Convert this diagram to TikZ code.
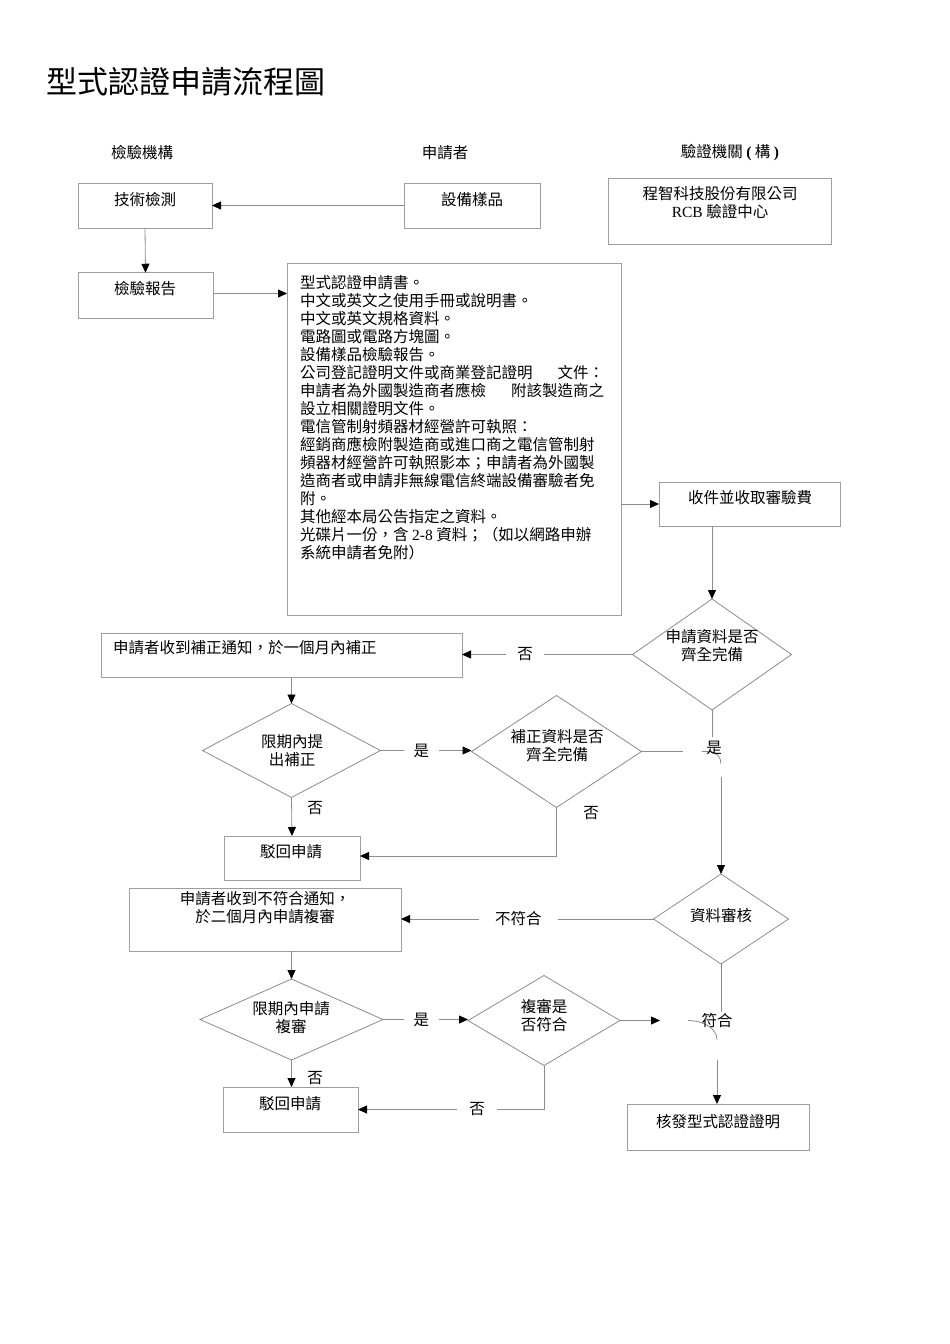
\documentclass[tikz,border=0pt]{standalone}
\usepackage{fontspec}
\setmainfont{Noto Sans CJK TC}
\newfontfamily\latinserif{Liberation Serif}
\usetikzlibrary{arrows.meta,shapes.geometric,calc}
\definecolor{linegray}{gray}{0.55}
\definecolor{boxgray}{gray}{0.62}
\newcommand{\bodysize}{\fontsize{15.5}{18}\selectfont}
\begin{document}
\begin{tikzpicture}[x=1pt,y=-1pt,
  box/.style={draw=boxgray,line width=0.8pt,rectangle,inner sep=0pt,outer sep=0pt},
  dia/.style={draw=linegray,line width=0.8pt,diamond,inner sep=0pt,outer sep=0pt},
  txt/.style={inner sep=0pt,font=\bodysize,align=center},
  conn/.style={draw=linegray,line width=0.8pt},
  arr/.style={conn,-{Triangle[length=9pt,width=8pt,color=black]}},
  lblgap/.style={txt,fill=white,inner xsep=#1},
]
\fill[white] (0,0) rectangle (950,1344);
\useasboundingbox (0,0) rectangle (950,1344);

% title and column headers
\node[anchor=west,inner sep=0pt,font=\fontsize{31}{36}\selectfont] (title) at (46,82) {型式認證申請流程圖};
\node[txt] (h1) at (142,153) {檢驗機構};
\node[txt] (h2) at (445,153) {申請者};
\node[txt] (h3) at (730,153) {驗證機關 {\latinserif\bfseries(} 構 {\latinserif\bfseries)}};

% boxes
\node[box,minimum width=134pt,minimum height=45pt] (tech) at (145,205.5) {};
\node[txt] (tech-t) at (145,200) {技術檢測};
\node[box,minimum width=136pt,minimum height=45pt] (sample) at (472,205.5) {};
\node[txt] (sample-t) at (472,200) {設備樣品};
\node[box,minimum width=223pt,minimum height=66pt] (rcb) at (719.5,211) {};
\node[txt] (rcb-t) at (720,203) {程智科技股份有限公司\\{\latinserif RCB} 驗證中心};
\node[box,minimum width=135pt,minimum height=45.5pt] (report) at (145.5,295.5) {};
\node[txt] (report-t) at (145,289) {檢驗報告};
\node[box,minimum width=334pt,minimum height=352pt] (big) at (454,439) {};
\node[txt,align=left,anchor=north west] (big-t) at (300,275) {型式認證申請書。\\
中文或英文之使用手冊或說明書。\\
中文或英文規格資料。\\
電路圖或電路方塊圖。\\
設備樣品檢驗報告。\\
公司登記證明文件或商業登記證明\hspace{1.6em}文件：\\
申請者為外國製造商者應檢\hspace{1.6em}附該製造商之\\
設立相關證明文件。\\
電信管制射頻器材經營許可執照：\\
經銷商應檢附製造商或進口商之電信管制射\\
頻器材經營許可執照影本；申請者為外國製\\
造商者或申請非無線電信終端設備審驗者免\\
附。\\
其他經本局公告指定之資料。\\
光碟片一份，含 {\latinserif 2-8} 資料；（如以網路申辦\\
系統申請者免附）};
\node[box,minimum width=181pt,minimum height=44pt] (recv) at (749.5,504) {};
\node[txt] (recv-t) at (750,498) {收件並收取審驗費};

\node[dia,minimum width=159pt,minimum height=111pt] (D1) at (712,654.5) {};
\node[txt] (D1-t) at (712,646) {申請資料是否\\齊全完備};
\node[box,minimum width=360.5pt,minimum height=44pt] (fix) at (281.75,655) {};
\node[txt,anchor=west] (fix-t) at (113,648) {申請者收到補正通知，於一個月內補正};

\node[dia,minimum width=178pt,minimum height=94pt] (D2) at (291.5,750.5) {};
\node[txt] (D2-t) at (292,751) {限期內提\\出補正};
\node[dia,minimum width=170pt,minimum height=112pt] (D3) at (556.5,751.5) {};
\node[txt] (D3-t) at (557,746) {補正資料是否\\齊全完備};
\node[box,minimum width=136pt,minimum height=44pt] (rej1) at (292,858) {};
\node[txt] (rej1-t) at (291,852) {駁回申請};

\node[dia,minimum width=135pt,minimum height=90pt] (D4) at (721,919) {};
\node[txt] (D4-t) at (721,916) {資料審核};
\node[box,minimum width=272pt,minimum height=63pt] (nonc) at (265,919.5) {};
\node[txt] (nonc-t) at (265,908) {申請者收到不符合通知，\\於二個月內申請複審};

\node[dia,minimum width=183pt,minimum height=81pt] (D5) at (291.5,1019.5) {};
\node[txt] (D5-t) at (291,1017.5) {限期內申請\\複審};
\node[dia,minimum width=152pt,minimum height=90pt] (D6) at (544,1020.5) {};
\node[txt] (D6-t) at (544,1016) {複審是\\否符合};
\node[box,minimum width=135pt,minimum height=45pt] (rej2) at (290.5,1109.5) {};
\node[txt] (rej2-t) at (290,1104) {駁回申請};
\node[box,minimum width=182pt,minimum height=46pt] (cert) at (718,1127) {};
\node[txt] (cert-t) at (718,1122) {核發型式認證證明};

% connectors, top part
\draw[arr] (sample.west) -- (tech.east);
\draw[arr] (tech.south) -- (report.north);
\draw[arr] ([yshift=2pt]report.east) -- ([yshift=2pt]report.east -| big.west);
\draw[arr] (big.east |- recv.west) -- (recv.west);
\draw[arr] (recv.south -| D1.north) -- (D1.north);
\draw[arr] (D1.west) -- node[lblgap=11pt,pos=0.63] (no1) {否} (D1.west -| fix.east);
\draw[arr] (fix.south -| D2.north) -- (D2.north);
\draw[arr] (D2.east) -- node[lblgap=10pt,pos=0.45] (yes2) {是} (D2.east -| D3.west);
\draw[arr] (D2.south) -- (rej1.north);
\node[txt] (no2) at (315,808) {否};
\draw[arr] (D3.south) |- ([yshift=2pt]rej1.east);
\node[txt] (no3) at (591,813) {否};

% yes-junction below D1
\coordinate (j1a) at ($(D1.south)+(0,27)$);
\coordinate (j1b) at (683,751.5);
\coordinate (j1c) at (701.7,751.5);
\coordinate (j1d) at (709,751.5);
\coordinate (j1e) at (721,777);
\draw[conn] (D1.south) -- (j1a);
\draw[conn] (D3.east) -- (j1b);
\draw[conn] (j1c) -- (j1d) arc[start angle=-90,end angle=0,radius=12];
\node[txt] (yes1) at (714,748) {是};
\draw[arr] (j1e) -- (j1e |- D4.north);

% lower part
\draw[arr] (D4.west) -- node[lblgap=16pt,pos=0.535] (nc) {不符合} (D4.west -| nonc.east);
\draw[arr] (nonc.south -| D5.north) -- (D5.north);
\draw[arr] (D5.east) -- node[lblgap=10pt,pos=0.45] (yes3) {是} (D5.east -| D6.west);
\draw[arr] (D5.south) -- (D5.south |- rej2.north);
\node[txt] (no4) at (315,1078) {否};
\draw[arr] (D6.south) |- node[lblgap=12pt,pos=0.68] (no5) {否} (rej2.east);

% conform-junction
\coordinate (j2a) at (721,1012);
\coordinate (j2b) at (660,1020.5);
\coordinate (j2c) at (688,1020.5);
\coordinate (j2d) at (717,1060);
\draw[conn] (D4.south) -- (j2a);
\draw[arr] (D6.east) -- (j2b);
\draw[conn] (j2c) arc[start angle=-90,end angle=0,x radius=29,y radius=19];
\node[txt] (ok) at (717,1021) {符合};
\draw[arr] (j2d) -- (j2d |- cert.north);
\end{tikzpicture}
\end{document}
